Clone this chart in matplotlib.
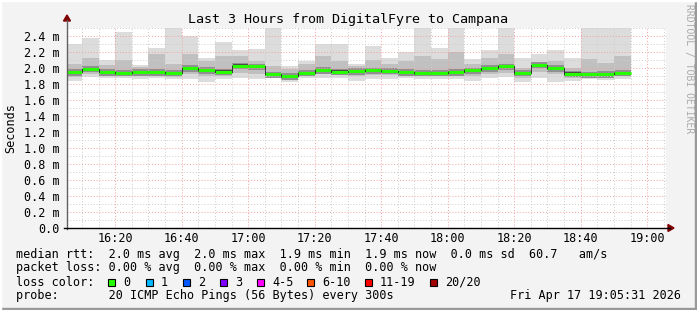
import numpy as np
import matplotlib
matplotlib.use("Agg")
import matplotlib.pyplot as plt
from matplotlib.patches import Rectangle, Polygon

# smokeping data, one value per 5 min step starting 16:05 (ms)
rtt_median = [1.95, 1.99, 1.95, 1.94, 1.95, 1.95, 1.94, 2.00, 1.975, 1.955, 2.03, 2.02,
              1.92, 1.90, 1.94, 1.975, 1.955, 1.96, 1.97, 1.965, 1.95, 1.94, 1.94, 1.95,
              1.97, 2.00, 2.02, 1.94, 2.04, 2.00, 1.93, 1.92, 1.925, 1.94]
rtt_max = [2.30, 2.38, 2.10, 2.45, 2.04, 2.25, 2.50, 2.40, 2.13, 2.33, 2.23, 2.24,
           2.50, 2.02, 2.09, 2.30, 2.30, 2.05, 2.28, 2.13, 2.20, 2.50, 2.25, 2.50,
           2.11, 2.23, 2.50, 2.12, 2.18, 2.23, 2.12, 2.50, 2.50, 2.50]
rtt_hi = [2.05, 2.13, 2.04, 2.10, 2.01, 2.17, 2.05, 2.17, 2.09, 2.15, 2.15, 2.09,
          2.02, 1.99, 2.05, 2.15, 2.09, 2.03, 2.10, 2.05, 2.09, 2.15, 2.11, 2.20,
          2.05, 2.13, 2.17, 2.00, 2.08, 2.09, 2.00, 2.11, 2.06, 2.15]
rtt_lo = [1.89, 1.93, 1.90, 1.90, 1.90, 1.90, 1.89, 1.92, 1.90, 1.90, 1.94, 1.93,
          1.89, 1.86, 1.90, 1.92, 1.91, 1.90, 1.91, 1.91, 1.91, 1.90, 1.90, 1.90,
          1.90, 1.93, 1.94, 1.88, 1.95, 1.92, 1.88, 1.89, 1.89, 1.90]
rtt_min = [1.84, 1.89, 1.87, 1.87, 1.86, 1.87, 1.86, 1.86, 1.83, 1.86, 1.87, 1.86,
           1.87, 1.82, 1.87, 1.88, 1.87, 1.84, 1.86, 1.86, 1.87, 1.86, 1.86, 1.86,
           1.84, 1.88, 1.89, 1.83, 1.87, 1.82, 1.84, 1.86, 1.85, 1.86]

x_ticks = [20, 40, 60, 80, 100, 120, 140, 160, 180]   # minutes after 16:00
x_labels = ["16:20", "16:40", "17:00", "17:20", "17:40", "18:00", "18:20", "18:40", "19:00"]
y_ticks = [0.0, 0.2, 0.4, 0.6, 0.8, 1.0, 1.2, 1.4, 1.6, 1.8, 2.0, 2.2, 2.4]
y_labels = ["0.0", "0.2 m", "0.4 m", "0.6 m", "0.8 m", "1.0 m", "1.2 m", "1.4 m",
            "1.6 m", "1.8 m", "2.0 m", "2.2 m", "2.4 m"]

loss_labels = ["0", "1", "2", "3", "4-5", "6-10", "11-19", "20/20"]
loss_colors = ["#26ff00", "#00b8ff", "#0059ff", "#7e00ff", "#ff00ff", "#ff5500", "#ff0000", "#a10000"]
loss_box_x = [108, 146, 183, 220, 257, 307, 365, 430]

W, H = 697, 310
mono = "DejaVu Sans Mono"
fs = 8.5

fig = plt.figure(figsize=(W / 100, H / 100), dpi=100, facecolor="#f3f3f3")
x0, x1 = 5.52, 185.52
ax = fig.add_axes([67 / W, (H - 228) / H, 598.5 / W, 200 / H])
ax.set_facecolor("white")
ax.set_xlim(x0, x1)
ax.set_ylim(0, 2.5)

# smoke bars
edges = np.arange(5, 5 * (len(rtt_median) + 2), 5)
for i in range(len(rtt_median)):
    a, b = edges[i], edges[i + 1]
    m = rtt_median[i]
    ax.fill_between([a, b], rtt_min[i], rtt_max[i], color="#dcdcdc", lw=0, zorder=1)
    ax.fill_between([a, b], rtt_lo[i], rtt_hi[i], color="#c0c0c0", lw=0, zorder=1.1)
    ax.fill_between([a, b], m - 0.045, m + 0.035, color="#909090", lw=0, zorder=1.2)
    ax.fill_between([a, b], m - 0.025, m + 0.015, color="#4a4a4a", lw=0, zorder=1.3)

# grid (drawn above smoke like rrdtool)
for t in np.arange(5, 190, 5):
    if t % 20 == 0:
        ax.axvline(t, color="#f2a0a0", lw=0.7, ls=(0, (1, 2)), zorder=2)
    else:
        ax.axvline(t, color="#cccccc", lw=0.7, ls=(0, (1, 2)), zorder=2)
for v in np.arange(0.1, 2.55, 0.1):
    if round(v * 10) % 2 == 0:
        ax.axhline(v, color="#f2a0a0", lw=0.7, ls=(0, (1, 2)), zorder=2)
    else:
        ax.axhline(v, color="#cccccc", lw=0.7, ls=(0, (1, 2)), zorder=2)

# median line, coloured by loss (all 0 loss here)
for i in range(len(rtt_median)):
    a, b = edges[i], edges[i + 1]
    ax.plot([a, b], [rtt_median[i]] * 2, color=loss_colors[0], lw=2.2,
            solid_capstyle="butt", zorder=3)
    if i > 0:
        ax.plot([a, a], [rtt_median[i - 1], rtt_median[i]], color="#202020", lw=0.6, zorder=3)

for s in ax.spines.values():
    s.set_visible(False)
ax.set_xticks(x_ticks)
ax.set_xticklabels(x_labels, fontfamily=mono, fontsize=fs)
ax.set_yticks(y_ticks)
ax.set_yticklabels(y_labels, fontfamily=mono, fontsize=fs)
ax.tick_params(length=0, pad=5)
ax.tick_params(axis="x", pad=3)

# axis lines with arrows (figure pixel coords)
def fx(px):
    return px / W

def fy(py):
    return 1 - py / H

fig.add_artist(plt.Line2D([fx(67), fx(67)], [fy(229), fy(20)], color="#606060", lw=1))
fig.add_artist(plt.Line2D([fx(64), fx(670)], [fy(228), fy(228)], color="black", lw=1))
fig.add_artist(Polygon([[fx(63.5), fy(21)], [fx(70.5), fy(21)], [fx(67), fy(15)]],
                       closed=True, color="#800000", transform=fig.transFigure))
fig.add_artist(Polygon([[fx(668), fy(224.5)], [fx(668), fy(231.5)], [fx(674), fy(228)]],
                       closed=True, color="#800000", transform=fig.transFigure))

fig.text(fx(348), fy(19), "Last 3 Hours from DigitalFyre to Campana", ha="center",
         va="center", family=mono, fontsize=9.6)
fig.text(fx(11), fy(128), "Seconds", rotation=90, ha="center", va="center",
         family=mono, fontsize=fs)
fig.text(fx(689), fy(4), "RRDTOOL / TOBI OETIKER", rotation=270, ha="center", va="top",
         family=mono, fontsize=7, color="#aaaaaa")

lines_y = [254.3, 267.7, 282, 295.7]
fig.text(fx(16), fy(lines_y[0]),
         "median rtt:  2.0 ms avg  2.0 ms max  1.9 ms min  1.9 ms now  0.0 ms sd  60.7   am/s",
         family=mono, fontsize=fs, va="center")
fig.text(fx(16), fy(lines_y[1]),
         "packet loss: 0.00 % avg  0.00 % max  0.00 % min  0.00 % now",
         family=mono, fontsize=fs, va="center")
fig.text(fx(16), fy(lines_y[2]), "loss color:", family=mono, fontsize=fs, va="center")
for bx, lab, col in zip(loss_box_x, loss_labels, loss_colors):
    fig.add_artist(Rectangle((fx(bx), fy(285.5)), 7 / W, 7 / H, facecolor=col,
                             edgecolor="black", lw=0.8, transform=fig.transFigure))
    fig.text(fx(bx + 15), fy(lines_y[2]), lab, family=mono, fontsize=fs, va="center")
fig.text(fx(16), fy(lines_y[3]), "probe:       20 ICMP Echo Pings (56 Bytes) every 300s",
         family=mono, fontsize=fs, va="center")
fig.text(fx(681), fy(lines_y[3]), "Fri Apr 17 19:05:31 2026", family=mono, fontsize=fs,
         va="center", ha="right")

# 3d frame of the canvas
fig.add_artist(Rectangle((0, 0), 1, 2 / H, color="#999999", transform=fig.transFigure))
fig.add_artist(Rectangle((1 - 2 / W, 0), 2 / W, 1, color="#999999", transform=fig.transFigure))
fig.add_artist(Rectangle((0, 1 - 1 / H), 1, 1 / H, color="white", transform=fig.transFigure))
fig.add_artist(Rectangle((0, 0), 1 / W, 1, color="white", transform=fig.transFigure))

fig.savefig("out.png", dpi=100, facecolor=fig.get_facecolor())
